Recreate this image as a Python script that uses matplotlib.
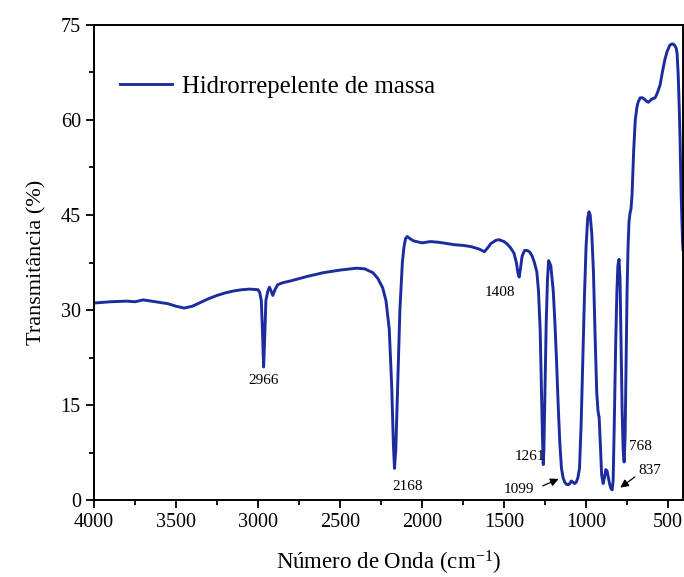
import matplotlib
matplotlib.use("Agg")
import matplotlib.pyplot as plt
from matplotlib.ticker import MultipleLocator

plt.rcParams['font.family'] = ['Liberation Serif', 'DejaVu Serif']
plt.rcParams['mathtext.fontset'] = 'custom'
plt.rcParams['mathtext.rm'] = 'Liberation Serif'
plt.rcParams['mathtext.it'] = 'Liberation Serif:italic'

series_name = "Hidrorrepelente de massa"

wavenumber = [4000, 3900, 3800, 3750, 3700, 3650, 3600, 3550, 3500, 3450, 3400, 3350, 3300, 3250,
              3200, 3150, 3100, 3050, 3000, 2990, 2980, 2972, 2966, 2960, 2952, 2940, 2930, 2920,
              2910, 2895, 2880, 2850, 2800, 2700, 2600, 2500, 2400, 2350, 2300, 2270, 2240, 2220,
              2200, 2185, 2175, 2168, 2160, 2150, 2135, 2120, 2110, 2100, 2090, 2070, 2050, 2000,
              1950, 1900, 1850, 1800, 1750, 1700, 1650, 1620, 1600, 1580, 1550, 1530, 1500, 1480,
              1460, 1440, 1425, 1415, 1408, 1400, 1390, 1375, 1360, 1345, 1330, 1315, 1300, 1290,
              1280, 1272, 1265, 1261, 1257, 1250, 1243, 1235, 1228, 1215, 1200, 1190, 1180, 1170,
              1160, 1150, 1140, 1130, 1120, 1110, 1099, 1090, 1080, 1070, 1060, 1050, 1040, 1030,
              1020, 1010, 1000, 990, 982, 975, 965, 955, 945, 935, 927, 920, 912, 905, 896, 888,
              880, 872, 864, 856, 848, 841, 835, 828, 820, 812, 806, 799, 793, 787, 780, 774, 768,
              762, 756, 750, 744, 738, 732, 726, 720, 710, 700, 690, 683, 670, 655, 640, 634, 620,
              600, 579, 565, 549, 535, 520, 506, 490, 478, 470, 460, 450, 445, 438, 432, 427, 420,
              412, 409]
transmittance = [31.1, 31.3, 31.4, 31.3, 31.6, 31.4, 31.2, 31.0, 30.6, 30.3, 30.6, 31.2, 31.8, 32.3,
                 32.7, 33.0, 33.2, 33.3, 33.2, 32.8, 31.5, 26.0, 21.0, 25.0, 31.5, 33.0, 33.6, 33.0,
                 32.3, 33.3, 34.0, 34.3, 34.6, 35.3, 35.9, 36.3, 36.6, 36.5, 35.9, 35.0, 33.5, 31.5,
                 27.0, 18.0, 9.0, 5.0, 8.0, 17.0, 30.0, 37.5, 40.0, 41.3, 41.6, 41.2, 40.9, 40.6,
                 40.8, 40.7, 40.5, 40.3, 40.2, 40.0, 39.6, 39.2, 39.8, 40.5, 41.0, 41.1, 40.8, 40.4,
                 39.8, 39.0, 37.5, 35.8, 35.2, 36.5, 38.5, 39.4, 39.4, 39.2, 38.6, 37.5, 36.0, 33.0,
                 27.0, 17.0, 9.0, 5.6, 8.0, 18.0, 28.0, 35.0, 37.8, 37.0, 33.0, 28.0, 22.0, 15.0,
                 9.0, 5.0, 3.5, 2.8, 2.5, 2.4, 2.6, 3.0, 2.8, 2.6, 2.8, 3.5, 5.0, 12.0,
                 22.0, 32.0, 40.0, 44.5, 45.5, 45.0, 42.0, 36.0, 26.0, 17.0, 14.0, 13.0, 8.0, 4.0, 2.6, 3.5,
                 4.8, 4.6, 3.5, 2.5, 1.8, 1.6, 3.0, 12.0, 24.0, 33.0, 37.0, 38.0, 35.0, 25.0, 14.0, 8.0, 6.0,
                 10.0, 22.0, 33.0, 40.0, 44.0, 45.3, 46.0, 48.0, 55.0, 60.0, 62.0, 62.8, 63.5, 63.5, 63.2, 63.0, 62.8,
                 63.3, 63.5, 64.3, 65.5, 67.5, 69.5, 70.8, 71.8, 72.0, 72.0, 71.8, 71.3, 70.5, 67.0, 62.0, 57.0, 48.0,
                 41.0, 39.5]

peak_labels = ["2966", "2168", "1408", "1261", "1099", "768", "837"]
label_pos = [(2966, 18.8), (2085, 2.2), (1525, 32.7), (1341, 6.9), (1409, 1.6), (671, 8.4), (612, 4.6)]
arrow_labels = ["1099", "837"]
arrow_tail = [(1280, 2.05), (689, 3.9)]
arrow_tip = [(1152, 3.5), (805, 1.7)]

fig = plt.figure(figsize=(6.84, 5.77), dpi=100)
ax = fig.add_axes([94/684, 1-500/577, (683-94)/684, 475/577])

ax.plot(wavenumber, transmittance, color='#1c2c9e', lw=2.1, label=series_name)
ax.set_xlim(4000, 409)
ax.set_ylim(0, 75)
ax.xaxis.set_major_locator(MultipleLocator(500))
ax.xaxis.set_minor_locator(MultipleLocator(250))
ax.yaxis.set_major_locator(MultipleLocator(15))
ax.yaxis.set_minor_locator(MultipleLocator(7.5))
ax.tick_params(which='both', direction='out', width=1.3, labelsize=14.5, top=False, right=False)
ax.tick_params(which='major', length=6)
ax.tick_params(which='minor', length=3.5)
for s in ax.spines.values():
    s.set_linewidth(1.4)

ax.set_xlabel(r"Número de Onda (cm$^{\mathregular{-1}}$)", fontsize=16.5, labelpad=12)
ax.set_ylabel("Transmitância (%)", fontsize=16, labelpad=10)

for lab, (x, y) in zip(peak_labels, label_pos):
    ax.text(x, y, lab, fontsize=11, ha='center', va='center')
for tail, tip in zip(arrow_tail, arrow_tip):
    ax.annotate('', xy=tip, xytext=tail,
                arrowprops=dict(arrowstyle='-|>', color='black', lw=0.9, mutation_scale=12))

ax.legend(loc='upper left', bbox_to_anchor=(0.044, 0.893), frameon=False, fontsize=17.8,
          handlelength=2.1, handletextpad=0.4, borderpad=0, borderaxespad=0)

fig.savefig('out.png', dpi=100)
